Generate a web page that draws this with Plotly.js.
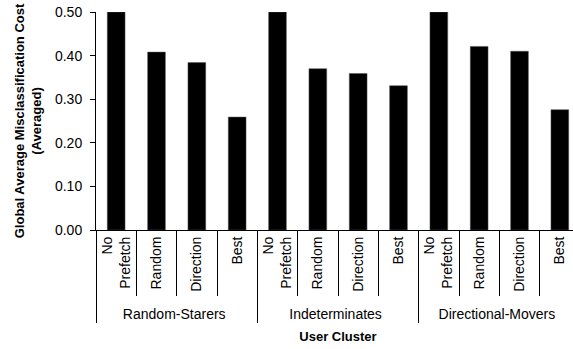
<!DOCTYPE html>
<html>
<head>
<meta charset="utf-8">
<script src="https://cdn.plot.ly/plotly-3.0.1.min.js"></script>
<style>
html, body { margin: 0; padding: 0; overflow: hidden; background: #fff; }
#chart { width: 600px; height: 349px; }
</style>
</head>
<body>
<div id="chart"></div>
<script>
// Data
var clusters = ["Random-Starers", "Indeterminates", "Directional-Movers"];
var strategies = ["No<br>Prefetch", "Random", "Direction", "Best"];
var randomStarers = [0.50, 0.408, 0.384, 0.259];
var indeterminates = [0.50, 0.370, 0.359, 0.331];
var directionalMovers = [0.50, 0.421, 0.410, 0.276];
var yTickVals = [0, 0.1, 0.2, 0.3, 0.4, 0.5];

var groupRow = [], labelRow = [], values = [];
var seriesByCluster = [randomStarers, indeterminates, directionalMovers];
clusters.forEach(function (c, ci) {
  strategies.forEach(function (s, si) {
    groupRow.push(c);
    labelRow.push(s);
    values.push(seriesByCluster[ci][si]);
  });
});

var font = "Liberation Sans, Arial, sans-serif";

var trace = {
  type: "bar",
  x: [groupRow, labelRow],
  y: values,
  width: 0.44,
  marker: { color: "#000000", line: { color: "#555555", width: 0.5 } },
  hoverinfo: "skip"
};

var layout = {
  width: 600,
  height: 349,
  margin: { l: 96, r: 20, t: 12, b: 119 },
  paper_bgcolor: "#ffffff",
  plot_bgcolor: "#ffffff",
  showlegend: false,
  font: { family: font, color: "#000000", size: 14 },
  xaxis: {
    type: "multicategory",
    tickangle: -90,
    ticks: "outside",
    tickson: "boundaries",
    ticklen: 65,
    tickcolor: "#000000",
    tickwidth: 1,
    showline: true,
    linecolor: "#000000",
    linewidth: 1,
    showdividers: true,
    dividercolor: "#000000",
    dividerwidth: 1,
    showgrid: false,
    tickfont: { family: font, size: 14, color: "#000000" },
    title: { text: "<b>User Cluster</b>", font: { family: font, size: 13, color: "#000000" }, standoff: 10 },
    automargin: false
  },
  yaxis: {
    range: [0, 0.5],
    tickvals: yTickVals,
    tickformat: ".2f",
    ticks: "outside",
    ticklen: 5,
    tickcolor: "#000000",
    ticklabelstandoff: 5,
    showline: true,
    linecolor: "#000000",
    linewidth: 1,
    showgrid: false,
    zeroline: false,
    tickfont: { family: font, size: 14, color: "#000000" },
    title: { text: "<b>Global Average Misclassification Cost<br>(Averaged)</b>", font: { family: font, size: 13, color: "#000000" }, standoff: 10 },
    automargin: false
  }
};

Plotly.newPlot("chart", [trace], layout, { displayModeBar: false, staticPlot: true });
</script>
</body>
</html>
